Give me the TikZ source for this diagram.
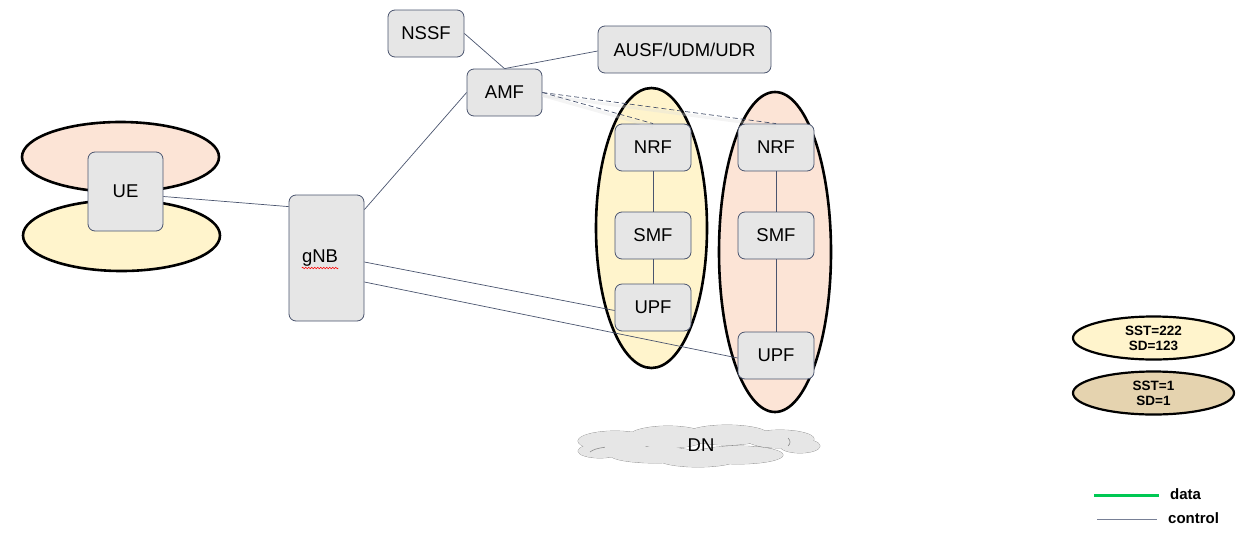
\documentclass[tikz,border=0pt]{standalone}
\usepackage{fontspec}
\setmainfont{Liberation Sans}
\usetikzlibrary{shapes.geometric,calc,decorations.pathmorphing}
\definecolor{boxfill}{RGB}{230,230,230}
\definecolor{boxline}{RGB}{74,84,110}
\definecolor{salmonfill}{RGB}{252,228,214}
\definecolor{yellowfill}{RGB}{255,244,204}
\definecolor{tanfill}{RGB}{229,211,175}
\definecolor{datagreen}{RGB}{0,200,83}
\definecolor{ctrlgray}{RGB}{120,128,150}
\definecolor{cloudline}{RGB}{140,140,140}
\tikzset{
  nf/.style={draw=boxline, fill=boxfill, rounded corners=7pt, line width=0.8pt,
    font=\fontsize{18.5}{21}\selectfont, inner sep=0pt, minimum width=76pt, minimum height=47pt},
  slice/.style={ellipse, draw=black, line width=2.6pt, inner sep=0pt},
  ctrl/.style={draw=boxline, line width=0.7pt},
  dashctrl/.style={draw=boxline, line width=0.7pt, dashed, dash pattern=on 5pt off 3pt},
  dashshadow/.style={draw=gray!25, line width=3pt, opacity=0.35},
  legell/.style={ellipse, draw=black, line width=2.2pt, inner sep=0pt, align=center,
    font=\fontsize{13.5}{15}\selectfont\bfseries, minimum width=161pt, minimum height=43pt},
  legtxt/.style={anchor=west, inner sep=0pt, font=\fontsize{15}{17}\selectfont\bfseries}
}
\begin{document}
\begin{tikzpicture}[x=1pt,y=-1pt]
\useasboundingbox (0,0) rectangle (1244,533);
% slice ellipses
\node[slice, fill=salmonfill, minimum width=197pt, minimum height=70pt] (ueslicea) at (120.5,157) {};
\node[slice, fill=yellowfill, minimum width=197pt, minimum height=71pt] (uesliceb) at (121.5,235.5) {};
\node[slice, fill=yellowfill, minimum width=111pt, minimum height=280pt] (slicea) at (651.5,228) {};
\node[slice, fill=salmonfill, minimum width=112pt, minimum height=320pt] (sliceb) at (775,252) {};
% DN cloud (union of puffs)
\def\cloudpuffs{
  (615,441) ellipse [x radius=37, y radius=10]
  (668,437) ellipse [x radius=40, y radius=11]
  (727,435) ellipse [x radius=42, y radius=10]
  (780,439) ellipse [x radius=34, y radius=9]
  (600,451) ellipse [x radius=22, y radius=7]
  (800,446) ellipse [x radius=20, y radius=7]
  (655,455) ellipse [x radius=45, y radius=8]
  (738,455) ellipse [x radius=45, y radius=9]
  (698,459) ellipse [x radius=40, y radius=8]
}
\draw[cloudline, line width=0.7pt] \cloudpuffs;
\fill[boxfill] \cloudpuffs;
\draw[cloudline, line width=0.6pt] (590,452) arc[start angle=200, end angle=250, x radius=25, y radius=8];
\draw[cloudline, line width=0.6pt] (788,438) arc[start angle=-30, end angle=30, x radius=15, y radius=8];
\node[font=\fontsize{18.5}{21}\selectfont, inner sep=0pt] (dn) at (701,445) {DN};
% network functions
\node[nf, minimum width=76pt] (nssf) at (426,33.5) {NSSF};
\node[nf, minimum width=173pt] (ausf) at (684.5,49.5) {AUSF/UDM/UDR};
\node[nf, minimum width=75pt] (amf) at (504.5,92.5) {AMF};
\node[nf, minimum width=75pt, minimum height=79pt] (ue) at (125.5,191.5) {UE};
\node[nf, minimum width=75pt, minimum height=126pt] (gnb) at (326.5,258) {};
\node[font=\fontsize{18.5}{21}\selectfont, inner sep=0pt] (gnbtxt) at (320,258) {gNB};
\node[nf] (nrfa) at (653,147.5) {NRF};
\node[nf] (smfa) at (653,235.5) {SMF};
\node[nf] (upfa) at (653,307.5) {UPF};
\node[nf] (nrfb) at (776,147.5) {NRF};
\node[nf] (smfb) at (776,235.5) {SMF};
\node[nf] (upfb) at (776,355.5) {UPF};
% spell-check squiggle under gNB
\draw[red, line width=0.6pt, decorate, decoration={snake, segment length=3pt, amplitude=0.8pt}]
  ([yshift=-10pt]gnbtxt.west) -- ([yshift=-10pt]gnbtxt.east);
% connectors
\draw[ctrl] (nssf.east) -- (amf.north);
\draw[ctrl] (amf.north) -- ([yshift=-1.5pt]ausf.west);
\draw[ctrl] ([yshift=-15pt]gnb.north east) -- (amf.west);
\draw[ctrl] ([yshift=-5pt]ue.east) -- ([yshift=-12pt]gnb.north west);
\draw[ctrl] ([yshift=-4pt]gnb.east) -- ([yshift=-3pt]upfa.west);
\draw[ctrl] ([yshift=-24pt]gnb.east) -- ([yshift=-2.5pt]upfb.west);
\draw[dashshadow] ([yshift=-3pt]amf.east) -- ([yshift=-3pt]nrfa.north);
\draw[dashshadow] ([yshift=-3pt]amf.east) -- ([yshift=-3pt]nrfb.north);
\draw[dashctrl] (amf.east) -- (nrfa.north);
\draw[dashctrl] (amf.east) -- (nrfb.north);
\draw[ctrl] (nrfa.south) -- (smfa.north);
\draw[ctrl] (smfa.south) -- (upfa.north);
\draw[ctrl] (nrfb.south) -- (smfb.north);
\draw[ctrl] (smfb.south) -- (upfb.north);
% legend
\node[legell, fill=yellowfill] (lega) at (1153.5,338) {SST=222\\SD=123};
\node[legell, fill=tanfill] (legb) at (1153.5,393) {SST=1\\SD=1};
\coordinate (dataa) at (1094,495);
\coordinate (datab) at (1159,495);
\coordinate (ctrla) at (1097,519);
\coordinate (ctrlb) at (1157,519);
\draw[datagreen, line width=3pt] (dataa) -- (datab);
\draw[ctrlgray, line width=1pt] (ctrla) -- (ctrlb);
\node[legtxt] (datatxt) at (1170,494) {data};
\node[legtxt] (ctrltxt) at (1168,518) {control};
\end{tikzpicture}
\end{document}
